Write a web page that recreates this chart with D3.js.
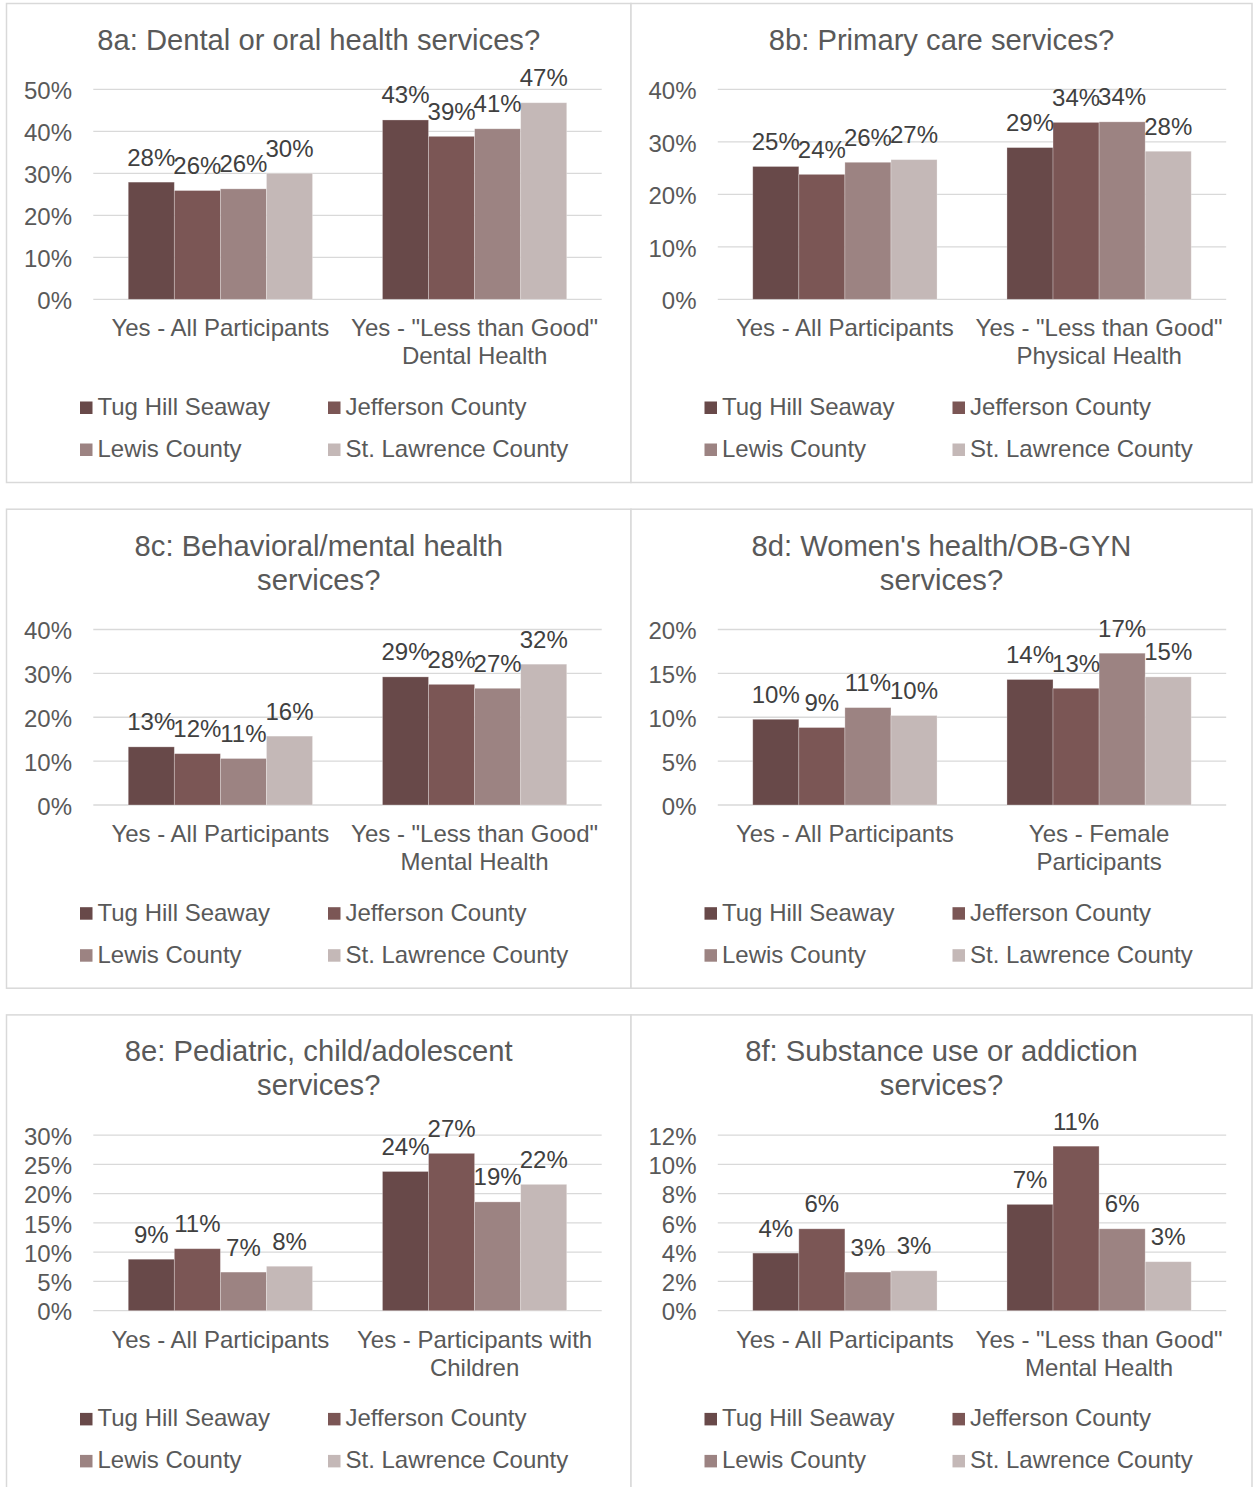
<!DOCTYPE html>
<html><head><meta charset="utf-8">
<script src="https://cdn.jsdelivr.net/npm/d3@7"></script>
<style>body{margin:0;background:#fff}</style>
</head><body><svg id="c" width="1253" height="1487"></svg>
<script>
// ---- data ----
const series = ["Tug Hill Seaway", "Jefferson County", "Lewis County", "St. Lawrence County"];
const colors = ["#684949", "#7b5655", "#9c8382", "#c4b8b7"];

const titles = [
  ["8a: Dental or oral health services?"],
  ["8b: Primary care services?"],
  ["8c: Behavioral/mental health", "services?"],
  ["8d: Women's health/OB-GYN", "services?"],
  ["8e: Pediatric, child/adolescent", "services?"],
  ["8f: Substance use or addiction", "services?"]
];

const categories8a = [["Yes - All Participants"], ["Yes - \"Less than Good\"", "Dental Health"]];
const categories8b = [["Yes - All Participants"], ["Yes - \"Less than Good\"", "Physical Health"]];
const categories8c = [["Yes - All Participants"], ["Yes - \"Less than Good\"", "Mental Health"]];
const categories8d = [["Yes - All Participants"], ["Yes - Female", "Participants"]];
const categories8e = [["Yes - All Participants"], ["Yes - Participants with", "Children"]];
const categories8f = [["Yes - All Participants"], ["Yes - \"Less than Good\"", "Mental Health"]];

// values in percent, per category: [Tug Hill, Jefferson, Lewis, St. Lawrence]
const values8a = [[27.9, 25.9, 26.3, 30.0], [42.7, 38.8, 40.6, 46.8]];
const values8b = [[25.3, 23.8, 26.1, 26.6], [28.9, 33.7, 33.8, 28.2]];
const values8c = [[13.25, 11.7, 10.6, 15.7], [29.2, 27.5, 26.6, 32.1]];
const values8d = [[9.77, 8.83, 11.1, 10.2], [14.3, 13.3, 17.3, 14.6]];
const values8e = [[8.8, 10.6, 6.6, 7.6], [23.8, 26.9, 18.6, 21.6]];
const values8f = [[3.94, 5.6, 2.64, 2.73], [7.27, 11.25, 5.6, 3.35]];

const ticks8a = [0, 10, 20, 30, 40, 50];
const ticks8b = [0, 10, 20, 30, 40];
const ticks8c = [0, 10, 20, 30, 40];
const ticks8d = [0, 5, 10, 15, 20];
const ticks8e = [0, 5, 10, 15, 20, 25, 30];
const ticks8f = [0, 2, 4, 6, 8, 10, 12];

// ---- build ----
const charts = [
  {title: titles[0], cats: categories8a, vals: values8a, ticks: ticks8a},
  {title: titles[1], cats: categories8b, vals: values8b, ticks: ticks8b},
  {title: titles[2], cats: categories8c, vals: values8c, ticks: ticks8c},
  {title: titles[3], cats: categories8d, vals: values8d, ticks: ticks8d},
  {title: titles[4], cats: categories8e, vals: values8e, ticks: ticks8e},
  {title: titles[5], cats: categories8f, vals: values8f, ticks: ticks8f}
];

const svg = d3.select("#c");
const FONT = "'Liberation Sans', Arial, sans-serif";
const colX = [6.5, 631];
const colW = [624.5, 621];
const rowY = [3.5, 509.2, 1014.9];
const panelH = 479;
const fmt = d3.format(".0%");
const BODY = 24;

charts.forEach((ch, i) => {
  const col = i % 2, row = Math.floor(i / 2);
  const W = colW[col];
  const g = svg.append("g").attr("transform", `translate(${colX[col]},${rowY[row]})`);
  g.append("rect").attr("x", 0).attr("y", 0).attr("width", W).attr("height", panelH)
    .attr("fill", "#fff").attr("stroke", "#d9d9d9").attr("stroke-width", 1.5);

  // title
  const t = g.append("text").attr("text-anchor", "middle").attr("font-family", FONT)
    .attr("font-size", 29.2).attr("fill", "#595959");
  ch.title.forEach((line, k) => {
    t.append("tspan").attr("x", W / 2).attr("y", 46.5 + k * 34).text(line);
  });

  const plotL = 86.8, plotR = 595.2, plotB = 295.8;
  const plotT = row === 0 ? 85.8 : 120.3;
  const yMax = ch.ticks[ch.ticks.length - 1];
  const y = d3.scaleLinear().domain([0, yMax]).range([plotB, plotT]);
  const catIdx = ch.cats.map((c, k) => k);
  const x0 = d3.scaleBand().domain(catIdx).range([plotL, plotR]).paddingInner(0.275).paddingOuter(0.1375);
  const x1 = d3.scaleBand().domain(series).range([0, x0.bandwidth()]);

  // gridlines
  g.append("g").selectAll("line").data(ch.ticks).join("line")
    .attr("x1", plotL).attr("x2", plotR)
    .attr("y1", d => y(d)).attr("y2", d => y(d))
    .attr("stroke", "#d9d9d9").attr("stroke-width", 1.3);

  // y tick labels
  g.append("g").selectAll("text").data(ch.ticks).join("text")
    .attr("x", 65.5).attr("y", d => y(d) + 9.8)
    .attr("text-anchor", "end").attr("font-family", FONT).attr("font-size", BODY)
    .attr("fill", "#595959").text(d => fmt(d / 100));

  // bars
  const groups = g.append("g").selectAll("g").data(ch.vals).join("g")
    .attr("transform", (d, k) => `translate(${x0(k)},0)`);
  groups.selectAll("rect").data(d => d.map((v, s) => ({v, s}))).join("rect")
    .attr("x", d => x1(series[d.s])).attr("width", x1.bandwidth())
    .attr("y", d => y(d.v)).attr("height", d => plotB - y(d.v))
    .attr("fill", d => colors[d.s])
    .attr("stroke", "#ffffff").attr("stroke-opacity", 0.35).attr("stroke-width", 0.8);
  groups.selectAll("text").data(d => d.map((v, s) => ({v, s}))).join("text")
    .attr("x", d => x1(series[d.s]) + x1.bandwidth() / 2)
    .attr("y", d => y(d.v) - 16.5)
    .attr("text-anchor", "middle").attr("font-family", FONT).attr("font-size", BODY)
    .attr("fill", "#404040").text(d => fmt(d.v / 100));

  // category labels
  ch.cats.forEach((lines, k) => {
    const ct = g.append("text").attr("text-anchor", "middle").attr("font-family", FONT)
      .attr("font-size", BODY).attr("fill", "#595959");
    lines.forEach((line, m) => {
      ct.append("tspan").attr("x", x0(k) + x0.bandwidth() / 2).attr("y", plotB + 37 + m * 28).text(line);
    });
  });

  // legend
  const legX = [73.5, 321.5], legY = [411.5, 453.5];
  series.forEach((s, k) => {
    const lx = legX[k % 2], ly = legY[Math.floor(k / 2)];
    g.append("rect").attr("x", lx).attr("y", ly - 13.5).attr("width", 12.5).attr("height", 12.5)
      .attr("fill", colors[k]);
    g.append("text").attr("x", lx + 17.5).attr("y", ly).attr("font-family", FONT)
      .attr("font-size", BODY).attr("fill", "#595959").text(s);
  });
});
</script>
</body></html>
